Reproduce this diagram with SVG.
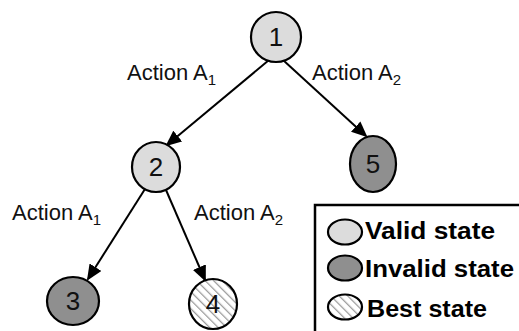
<svg xmlns="http://www.w3.org/2000/svg" width="519" height="331" viewBox="0 0 519 331">
<defs>
<style>
.node{stroke:#000;stroke-width:2.2}
.valid{fill:#dcdcdc}
.invalid{fill:#8f8f8f}
.best{fill:url(#hatch)}
.num{font-family:"Liberation Sans",Arial,sans-serif;font-size:26px;fill:#111;text-anchor:middle}
.lbl{font-family:"Liberation Sans",Arial,sans-serif;font-size:22px;fill:#111}
.sub{font-size:15px}
.leg{font-family:"Liberation Sans",Arial,sans-serif;font-size:23px;font-weight:bold;fill:#000}
.edge{stroke:#000;stroke-width:2;fill:none;marker-end:url(#arrow)}
</style>
<pattern id="hatch" patternUnits="userSpaceOnUse" width="6" height="6" patternTransform="rotate(-45)">
<rect width="6" height="6" fill="#fff"/>
<line x1="0" y1="0" x2="0" y2="6" stroke="#999" stroke-width="2.5"/>
</pattern>
<marker id="arrow" markerUnits="userSpaceOnUse" markerWidth="16" markerHeight="14" refX="14" refY="7" orient="auto">
<path d="M0,0 L16,7 L0,14 z" fill="#000"/>
</marker>
</defs>
<rect width="519" height="331" fill="#fff"/>
<g id="connectors">
<line class="edge" x1="269" y1="60" x2="167" y2="145"/>
<line class="edge" x1="283" y1="60" x2="366" y2="136"/>
<line class="edge" x1="145" y1="189" x2="88" y2="279"/>
<line class="edge" x1="166" y1="190" x2="205" y2="280"/>
</g>
<g id="labels">
<text class="lbl" x="127" y="80">Action A<tspan class="sub" dy="5">1</tspan></text>
<text class="lbl" x="312" y="80">Action A<tspan class="sub" dy="5">2</tspan></text>
<text class="lbl" x="12" y="220">Action A<tspan class="sub" dy="5">1</tspan></text>
<text class="lbl" x="194" y="220">Action A<tspan class="sub" dy="5">2</tspan></text>
</g>
<g id="node1"><ellipse class="node valid" cx="276" cy="37" rx="25" ry="25"/><text class="num" x="276" y="46">1</text></g>
<g id="node2"><ellipse class="node valid" cx="156" cy="167" rx="24" ry="25"/><text class="num" x="156" y="176">2</text></g>
<g id="node5"><ellipse class="node invalid" cx="373" cy="164" rx="23" ry="28"/><text class="num" x="373" y="173">5</text></g>
<g id="node3"><ellipse class="node invalid" cx="73" cy="301" rx="26" ry="24"/><text class="num" x="73" y="310">3</text></g>
<g id="node4"><ellipse class="node best" cx="213" cy="304" rx="24" ry="25"/><text class="num" x="213" y="313">4</text></g>
<g id="legend">
<path d="M315,331 L315,205 L519,205" fill="none" stroke="#000" stroke-width="2.5"/>
<ellipse class="node valid" cx="345" cy="232" rx="17" ry="12.5" stroke-width="1.8"/>
<text class="leg" x="365" y="239" textLength="130" lengthAdjust="spacingAndGlyphs">Valid state</text>
<ellipse class="node invalid" cx="345" cy="268" rx="17" ry="12.5" stroke-width="1.8"/>
<text class="leg" x="365" y="277" textLength="149" lengthAdjust="spacingAndGlyphs">Invalid state</text>
<ellipse class="node best" cx="345" cy="307" rx="17" ry="12.5" stroke-width="1.8"/>
<text class="leg" x="367" y="317" textLength="120" lengthAdjust="spacingAndGlyphs">Best state</text>
</g>
</svg>
